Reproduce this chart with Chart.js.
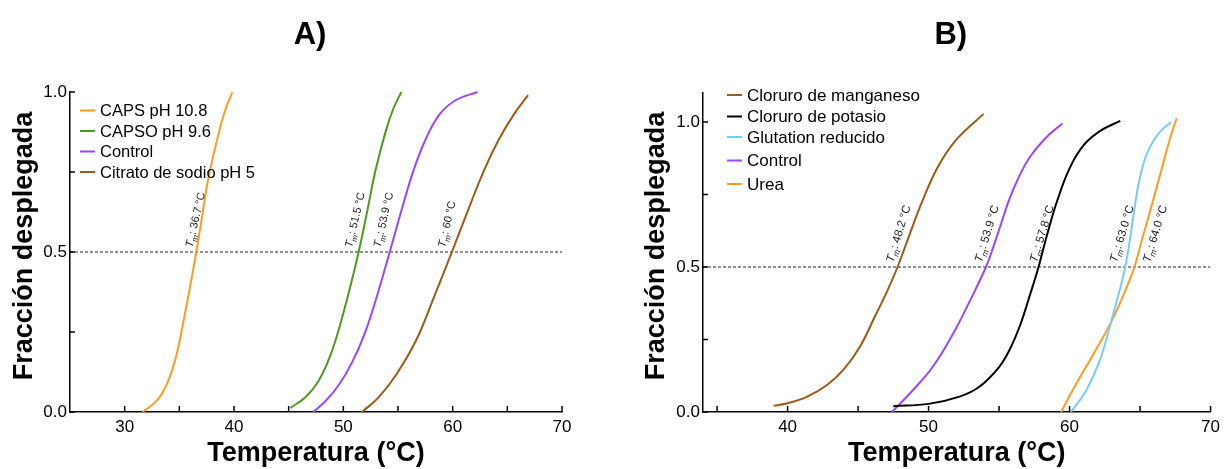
<!DOCTYPE html>
<html>
<head>
<meta charset="utf-8">
<script src="https://cdn.jsdelivr.net/npm/chart.js@4"></script>
<style>
  body { margin: 0; background: #fff; }
  canvas { position: absolute; top: 0; }
  #graficoA { left: 0; }
  #graficoB { left: 612px; }
</style>
</head>
<body>
<canvas id="graficoA" width="612" height="469"></canvas>
<canvas id="graficoB" width="613" height="469"></canvas>
<script>
// Datos: [temperatura, fraccion desplegada]
const capsA = [[31.65,0],[33.0,0.038],[33.9,0.09],[34.7,0.173],[35.3,0.27],[35.95,0.385],[36.55,0.5],[37.1,0.615],[37.6,0.72],[38.3,0.829],[39.1,0.933],[39.85,1.0]];
const capsoA = [[45.17,0.013],[46.5,0.045],[47.6,0.09],[48.5,0.15],[49.3,0.225],[50.4,0.36],[51.4,0.5],[52.2,0.63],[52.95,0.756],[53.9,0.88],[54.6,0.95],[55.3,1.0]];
const controlA = [[47.24,0],[48.4,0.035],[49.6,0.085],[50.8,0.155],[51.9,0.24],[53.1,0.365],[54.24,0.5],[55.4,0.64],[56.43,0.756],[57.5,0.85],[58.8,0.93],[60.3,0.975],[62.27,1.0]];
const citratoA = [[51.7,0],[53.2,0.045],[54.8,0.115],[56.67,0.225],[58.3,0.36],[59.93,0.5],[61.4,0.63],[62.88,0.756],[64.2,0.85],[65.6,0.93],[66.9,0.99]];

const manganesoB = [[39.0,0.022],[40.0,0.03],[41.4,0.053],[42.8,0.093],[44.0,0.148],[45.13,0.225],[46.2,0.33],[47.0,0.41],[47.8,0.5],[48.6,0.605],[49.5,0.72],[50.6,0.84],[51.9,0.935],[53.9,1.028]];
const potasioB = [[47.5,0.02],[50.0,0.028],[52.2,0.053],[53.6,0.087],[55.0,0.155],[55.8,0.22],[56.5,0.3],[57.2,0.405],[57.8,0.5],[58.4,0.61],[59.1,0.725],[60.0,0.84],[61.0,0.92],[62.2,0.97],[63.6,1.004]];
const glutationB = [[60.1,0],[61.2,0.076],[62.15,0.179],[62.98,0.317],[63.5,0.41],[63.95,0.5],[64.3,0.6],[64.6,0.7],[64.95,0.8],[65.4,0.88],[66.0,0.94],[66.6,0.975],[67.2,0.999]];
const controlB = [[47.4,0],[48.9,0.076],[50.3,0.156],[51.75,0.271],[53.0,0.39],[54.07,0.5],[54.6,0.57],[55.15,0.65],[55.7,0.73],[56.4,0.81],[57.2,0.88],[58.3,0.945],[59.5,0.995]];
const ureaB = [[59.4,0],[60.5,0.1],[61.7,0.2],[63.0,0.315],[64.05,0.43],[64.6,0.5],[65.2,0.605],[65.9,0.725],[66.6,0.85],[67.2,0.955],[67.6,1.013]];

// Etiquetas Tm (texto y temperatura donde se ubica)
const tmTextoA = ['36.7', '51.5', '53.9', '60'];
const tmPosA = [36.2, 50.8, 53.4, 59.3];
const tmTextoB = ['48.2', '53.9', '57.8', '63.0', '64.0'];
const tmPosB = [47.5, 53.77, 57.67, 63.35, 65.7];

// Ejes
const xTicksA = [30, 35, 40, 45, 50, 55, 60, 65, 70];
const xLabelsA = [30, 40, 50, 60, 70];
const xTicksB = [35, 40, 45, 50, 55, 60, 65, 70];
const xLabelsB = [40, 50, 60, 70];
const yTicks = [0, 0.25, 0.5, 0.75, 1.0];
const yLabels = [0, 0.5, 1.0];

const FUENTE = '"Liberation Sans", Arial, Helvetica, sans-serif';
Chart.defaults.font.family = FUENTE;
Chart.defaults.color = '#000';

// Convierte pares en puntos
const puntos = pares => pares.map(p => ({ x: p[0], y: p[1] }));

const curva = (label, pares, color) => ({
    label: label,
    data: puntos(pares),
    borderColor: color,
    backgroundColor: color,
    borderWidth: 2,
    pointRadius: 0,
    tension: 0.4,
    clip: 4,
    order: 1
});

const lineaMedia = (xmin, xmax) => ({
    data: [{ x: xmin, y: 0.5 }, { x: xmax, y: 0.5 }],
    borderColor: '#222',
    borderWidth: 1,
    borderDash: [3, 2],
    pointRadius: 0,
    order: 99,
    esGuia: true
});

// Plugin para marcas internas, titulos, leyenda y etiquetas Tm
const decor = {
    id: 'decor',
    afterDraw(chart, args, o) {
        const ctx = chart.ctx;
        const area = chart.chartArea;
        const xs = chart.scales.x;
        const ys = chart.scales.y;
        ctx.save();

        // marcas de los ejes hacia adentro
        ctx.strokeStyle = '#000';
        ctx.lineWidth = 1.5;
        xs.ticks.forEach(t => {
            const px = xs.getPixelForValue(t.value);
            ctx.beginPath();
            ctx.moveTo(px, area.bottom);
            ctx.lineTo(px, area.bottom - 6);
            ctx.stroke();
        });
        ys.ticks.forEach(t => {
            const py = ys.getPixelForValue(t.value);
            ctx.beginPath();
            ctx.moveTo(area.left, py);
            ctx.lineTo(area.left + 5, py);
            ctx.stroke();
        });

        // titulo del panel
        ctx.fillStyle = '#000';
        ctx.font = 'bold 31px ' + FUENTE;
        ctx.textAlign = 'center';
        ctx.textBaseline = 'alphabetic';
        ctx.fillText(o.panel, (area.left + area.right) / 2 - 6, 44);

        // titulos de ejes
        ctx.font = 'bold 27px ' + FUENTE;
        ctx.fillText('Temperatura (°C)', (area.left + area.right) / 2, 461);
        ctx.save();
        ctx.translate(o.yTituloX, 246);
        ctx.rotate(-Math.PI / 2);
        ctx.fillText('Fracción desplegada', 0, 0);
        ctx.restore();

        // leyenda
        ctx.font = o.leyendaFuente + 'px ' + FUENTE;
        ctx.textAlign = 'left';
        ctx.textBaseline = 'middle';
        let fila = 0;
        chart.data.datasets.forEach(ds => {
            if (ds.esGuia) return;
            const y = o.filas[fila++];
            ctx.strokeStyle = ds.borderColor;
            ctx.lineWidth = 2;
            ctx.beginPath();
            ctx.moveTo(o.leyendaX, y);
            ctx.lineTo(o.leyendaX + 15, y);
            ctx.stroke();
            ctx.fillStyle = '#000';
            ctx.fillText(ds.label, o.leyendaX + 20, y + 1);
        });

        // etiquetas Tm
        const y05 = ys.getPixelForValue(0.5) - 4;
        const f = o.tmFuente;
        o.tmTexto.forEach((txt, i) => {
            const x = xs.getPixelForValue(o.tmPos[i]);
            ctx.save();
            ctx.translate(x, y05);
            ctx.rotate(-o.angulo * Math.PI / 180);
            ctx.fillStyle = '#1a1a1a';
            ctx.textBaseline = 'alphabetic';
            ctx.font = 'italic ' + f + 'px ' + FUENTE;
            ctx.fillText('T', 0, 0);
            let w = ctx.measureText('T').width;
            ctx.font = 'italic ' + (f - 3) + 'px ' + FUENTE;
            ctx.fillText('m', w, 3);
            w += ctx.measureText('m').width;
            ctx.font = f + 'px ' + FUENTE;
            ctx.fillText(': ' + txt + ' °C', w, 0);
            ctx.restore();
        });

        ctx.restore();
    }
};

// Opciones comunes de los ejes
const ejes = (xmin, xmax, xTicks, xLabels, ymax, anchoY) => ({
    x: {
        type: 'linear', min: xmin, max: xmax,
        afterBuildTicks: s => { s.ticks = xTicks.map(v => ({ value: v })); },
        afterFit: s => { s.height = 57; },
        grid: { display: false, drawTicks: false },
        border: { color: '#000', width: 1.5 },
        ticks: {
            callback: v => xLabels.includes(v) ? String(v) : '',
            padding: 5, maxRotation: 0, autoSkip: false,
            font: { size: 17 }, color: '#000'
        }
    },
    y: {
        type: 'linear', min: 0, max: ymax,
        afterBuildTicks: s => { s.ticks = yTicks.map(v => ({ value: v })); },
        afterFit: s => { s.width = anchoY; },
        grid: { display: false, drawTicks: false },
        border: { color: '#000', width: 1.5 },
        ticks: {
            callback: v => yLabels.includes(v) ? v.toFixed(1) : '',
            padding: 3, autoSkip: false,
            font: { size: 17 }, color: '#000'
        }
    }
});

// Grafico A
new Chart(document.getElementById('graficoA'), {
    type: 'line',
    data: {
        datasets: [
            curva('CAPS pH 10.8', capsA, '#ff9b21'),
            curva('CAPSO pH 9.6', capsoA, '#4d9a1e'),
            curva('Control', controlA, '#9b45ff'),
            curva('Citrato de sodio pH 5', citratoA, '#9c5b16'),
            lineaMedia(25, 70)
        ]
    },
    options: {
        responsive: false,
        animation: false,
        layout: { padding: { top: 92, right: 50, bottom: 0, left: 0 } },
        scales: ejes(25, 70, xTicksA, xLabelsA, 1.0, 70),
        plugins: {
            legend: { display: false },
            tooltip: { enabled: false },
            decor: {
                panel: 'A)', yTituloX: 32, leyendaX: 80, leyendaFuente: 16.5,
                filas: [110.5, 131, 151.5, 172],
                tmTexto: tmTextoA, tmPos: tmPosA, angulo: 77, tmFuente: 11
            }
        }
    },
    plugins: [decor]
});

// Grafico B
new Chart(document.getElementById('graficoB'), {
    type: 'line',
    data: {
        datasets: [
            curva('Cloruro de manganeso', manganesoB, '#9c5b16'),
            curva('Cloruro de potasio', potasioB, '#000000'),
            curva('Glutation reducido', glutationB, '#74cdf7'),
            curva('Control', controlB, '#9b45ff'),
            curva('Urea', ureaB, '#ff9b21'),
            lineaMedia(34, 70)
        ]
    },
    options: {
        responsive: false,
        animation: false,
        layout: { padding: { top: 93, right: 14, bottom: 0, left: 21 } },
        scales: ejes(34, 70, xTicksB, xLabelsB, 1.1, 70),
        plugins: {
            legend: { display: false },
            tooltip: { enabled: false },
            decor: {
                panel: 'B)', yTituloX: 52, leyendaX: 115, leyendaFuente: 17,
                filas: [95, 116.5, 137, 160.5, 184],
                tmTexto: tmTextoB, tmPos: tmPosB, angulo: 73, tmFuente: 11.5
            }
        }
    },
    plugins: [decor]
});
</script>
</body>
</html>
